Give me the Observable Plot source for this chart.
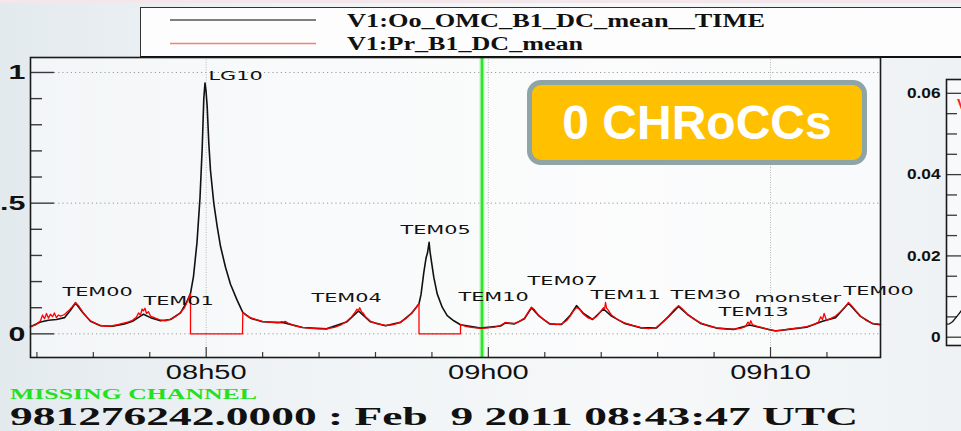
<!DOCTYPE html>
<html><head><meta charset="utf-8">
<script src="https://cdn.jsdelivr.net/npm/d3@7"></script>
<script src="https://cdn.jsdelivr.net/npm/@observablehq/plot@0.6"></script>
<style>
html,body{margin:0;padding:0;}
body{width:961px;height:431px;overflow:hidden;}
#root{position:relative;width:961px;height:431px;overflow:hidden;
 background:linear-gradient(90deg,#e3eaee 0%,#eff3f5 30%,#f6f8f9 65%,#eef2f4 100%);}
#root > *{position:absolute;left:0;top:0;}
#topband{width:961px;height:3px;background:#f3e7eb;}
#legend{left:140px !important;top:7px !important;width:900px;height:48px;background:#fdfdfd;border:1px solid #333;border-bottom:2px solid #111;}
#badge{left:527px !important;top:80px !important;width:330px;height:75px;border:5px solid #8fa4a4;border-radius:14px;background:#ffc000;
 color:#fff;font:bold 48px "Liberation Sans",Arial,sans-serif;display:flex;align-items:center;justify-content:center;}
</style></head><body><div id="root"><div id="topband"></div><div id="legend"></div></div>
<script>
// ---------- data ----------
// time in minutes after 08:00 UTC (Feb 9 2011)
const redMin = [43.773,43.950,44.127,44.200,44.269,44.340,44.411,44.480,44.553,44.620,44.694,44.760,44.836,44.978,45.120,45.261,45.368,45.474,45.616,45.758,45.899,46.077,46.254,46.466,46.679,46.892,47.104,47.246,47.388,47.530,47.600,47.671,47.730,47.778,47.830,47.884,47.950,48.026,48.203,48.380,48.558,48.735,48.912,49.089,49.231,49.373,49.444,49.444,51.287,51.297,51.428,51.570,51.783,51.995,52.279,52.562,52.680,52.740,52.800,52.917,53.165,53.413,53.697,53.980,54.264,54.547,54.760,54.972,55.150,55.291,55.340,55.398,55.440,55.504,55.560,55.646,55.823,56.071,56.355,56.638,56.886,57.099,57.276,57.418,57.542,57.542,59.013,59.013,59.226,59.474,59.722,59.970,60.218,60.431,60.608,60.750,60.927,61.104,61.281,61.423,61.529,61.636,61.777,61.955,62.167,62.380,62.592,62.770,62.911,63.018,63.124,63.230,63.372,63.549,63.691,63.833,63.975,64.081,64.120,64.152,64.190,64.223,64.365,64.577,64.825,65.109,65.392,65.676,65.960,66.208,66.385,66.562,66.739,66.881,67.058,67.271,67.519,67.802,68.086,68.405,68.689,68.937,69.114,69.200,69.256,69.300,69.362,69.504,69.716,69.929,70.177,70.425,70.709,70.992,71.276,71.524,71.701,71.780,71.843,71.900,71.985,72.126,72.304,72.481,72.658,72.764,72.871,73.012,73.190,73.402,73.615,73.898];
const redVal = [0.028,0.034,0.050,0.072,0.058,0.078,0.060,0.075,0.066,0.080,0.062,0.072,0.068,0.074,0.088,0.105,0.120,0.108,0.085,0.065,0.050,0.040,0.032,0.029,0.031,0.036,0.042,0.046,0.052,0.064,0.080,0.072,0.095,0.088,0.098,0.078,0.085,0.068,0.060,0.053,0.050,0.056,0.066,0.082,0.100,0.135,0.152,0,0,0.082,0.070,0.062,0.054,0.048,0.044,0.042,0.047,0.045,0.048,0.040,0.030,0.025,0.021,0.019,0.020,0.025,0.033,0.047,0.065,0.085,0.094,0.090,0.100,0.085,0.080,0.065,0.048,0.038,0.032,0.035,0.045,0.060,0.080,0.097,0.115,0,0,0.035,0.028,0.024,0.022,0.023,0.026,0.032,0.044,0.040,0.040,0.048,0.060,0.085,0.102,0.092,0.072,0.055,0.040,0.035,0.038,0.050,0.070,0.088,0.100,0.095,0.075,0.060,0.057,0.066,0.085,0.100,0.095,0.120,0.098,0.095,0.072,0.055,0.042,0.032,0.025,0.020,0.025,0.047,0.068,0.090,0.108,0.095,0.075,0.058,0.042,0.030,0.023,0.019,0.018,0.021,0.028,0.045,0.036,0.050,0.035,0.030,0.024,0.016,0.012,0.014,0.019,0.023,0.028,0.035,0.045,0.065,0.055,0.078,0.052,0.058,0.068,0.085,0.105,0.120,0.108,0.090,0.068,0.050,0.040,0.036];

const blackMin = [43.773,44.127,44.411,44.694,44.978,45.190,45.368,45.616,45.899,46.254,46.679,47.104,47.388,47.671,47.778,48.026,48.380,48.735,49.089,49.302,49.444,49.550,49.674,49.780,49.858,49.915,49.957,49.993,50.035,50.092,50.152,50.269,50.390,50.507,50.684,50.861,51.099,51.297,51.570,51.995,52.740,53.413,54.264,54.972,55.398,55.823,56.355,56.886,57.276,57.542,57.613,57.713,57.791,57.844,57.900,57.932,57.985,58.067,58.187,58.364,58.542,58.776,59.013,59.722,60.431,60.608,60.927,61.281,61.529,61.777,62.167,62.592,62.911,63.124,63.372,63.691,64.081,64.365,64.825,65.392,65.960,66.385,66.739,67.058,67.519,68.086,68.689,69.256,69.716,70.177,70.709,71.276,71.843,72.304,72.764,73.190,73.615,73.898];
const blackVal = [0.027,0.045,0.052,0.055,0.062,0.090,0.118,0.083,0.048,0.031,0.029,0.038,0.048,0.068,0.075,0.062,0.050,0.055,0.080,0.120,0.155,0.220,0.350,0.520,0.710,0.900,0.960,0.930,0.870,0.730,0.625,0.500,0.410,0.335,0.255,0.190,0.128,0.082,0.060,0.046,0.043,0.024,0.019,0.045,0.088,0.046,0.031,0.044,0.078,0.115,0.150,0.235,0.290,0.310,0.350,0.315,0.275,0.216,0.153,0.102,0.070,0.050,0.035,0.022,0.030,0.042,0.038,0.058,0.100,0.070,0.038,0.036,0.072,0.108,0.078,0.055,0.095,0.068,0.040,0.023,0.023,0.066,0.105,0.074,0.040,0.022,0.017,0.034,0.022,0.011,0.018,0.025,0.048,0.062,0.117,0.067,0.039,0.035];

const peakNames = ["LG10","TEM00","TEM01","TEM04","TEM05","TEM10","TEM07","TEM11","TEM30","TEM13","monster","TEM00"];
const peakMin   = [50.082,44.907,47.778,53.732,56.886,58.942,61.388,63.620,66.456,68.157,69.433,72.587];
const peakVal   = [0.971,0.146,0.112,0.123,0.383,0.124,0.188,0.135,0.135,0.070,0.121,0.150];

const xMajorMin = [50, 60, 70];                 // 08h50, 09h00, 09h10
const xMinorMin = [44,46,48,52,54,56,58,62,64,66,68,72];
const yMajor = [0, 0.5, 1];
const yMinor = [0.1,0.2,0.3,0.4,0.6,0.7,0.8,0.9];
const missingMin = [59.775];                      // green "missing channel" marker
const xDomainMin = [43.773, 73.898];
const yDomain = [-0.0905, 1.0573];

const seriesNames = ["V1:Oo_OMC_B1_DC_mean__TIME", "V1:Pr_B1_DC_mean"];
const seriesColors = ["#111111", "#ff0000"];
const footerStatus = "MISSING CHANNEL";
const footerStamp = "981276242.0000 : Feb  9 2011 08:43:47 UTC";
const badgeText = "0 CHRoCCs";

// side panel (partially visible second chart)
const sideX = [0, 3, 6, 9, 12, 15];
const sideY = [0.0032, 0.0033, 0.0038, 0.0047, 0.0056, 0.0066];
const sideMajor = [0, 0.02, 0.04, 0.06];
const sideMinor = [0.005,0.01,0.015,0.025,0.03,0.035,0.045,0.05,0.055];

// ---------- build ----------
const T0 = Date.UTC(2011, 1, 9, 8, 0, 0);
const toDate = m => new Date(T0 + m * 60000);
const red = redMin.map((m, i) => ({t: toDate(m), v: redVal[i]}));
const black = blackMin.map((m, i) => ({t: toDate(m), v: blackVal[i]}));
const peaks = peakNames.map((n, i) => ({t: toDate(peakMin[i]), v: peakVal[i], n}));
const xMajor = xMajorMin.map(toDate), xMinor = xMinorMin.map(toDate);

const root = document.getElementById("root");
const W = 961, H = 431, mL = 30, mR = 81, mT = 57, mB = 74;
const fw = W - mL - mR, fh = H - mT - mB;
const tickCol = "#3a3a3a";

const main = Plot.plot({
  width: W, height: H, marginLeft: mL, marginRight: mR, marginTop: mT, marginBottom: mB,
  x: {type: "utc", domain: xDomainMin.map(toDate), label: null},
  y: {domain: yDomain, label: null},
  style: {background: "transparent", overflow: "visible"},
  marks: [
    Plot.frame({fill: "#ffffff", fillOpacity: 0.55, stroke: "none"}),
    Plot.ruleY(yMajor, {y: d => d, insetLeft: 24, stroke: "#9a9a9a", strokeDasharray: "1.2,3"}),
    Plot.ruleX(xMajor, {x: d => d, stroke: "#b8b8b8", strokeDasharray: "1,1.5"}),
    Plot.ruleX(missingMin.map(toDate), {x: d => d, stroke: "#b6f5b6", strokeWidth: 5}),
    Plot.ruleX(missingMin.map(toDate), {x: d => d, stroke: "#2ee62e", strokeWidth: 2.5}),
    Plot.line(black, {x: "t", y: "v", stroke: seriesColors[0], strokeWidth: 1.6}),
    Plot.line(red, {x: "t", y: "v", stroke: seriesColors[1], strokeWidth: 1.3}),
    Plot.text(peaks, {x: "t", y: "v", text: "n", textAnchor: "start", lineAnchor: "bottom",
      fontSize: 13, fontFamily: "DejaVu Sans", fill: "#111"}),
    Plot.ruleX(xMajor, {x: d => d, insetTop: fh - 10, stroke: tickCol, strokeWidth: 1.2}),
    Plot.ruleX(xMinor, {x: d => d, insetTop: fh - 5, stroke: tickCol, strokeWidth: 1.2}),
    Plot.ruleY(yMajor, {y: d => d, insetRight: fw - 24, stroke: tickCol, strokeWidth: 1.4}),
    Plot.ruleY(yMinor, {y: d => d, insetRight: fw - 12, stroke: tickCol, strokeWidth: 1.4}),
    Plot.axisX(xMajor, {tickSize: 0, tickPadding: 7, fontSize: 20, fontFamily: "Liberation Sans",
      fill: "#111", tickFormat: d3.utcFormat("%Hh%M"), label: null}),
    Plot.axisY(yMajor, {tickSize: 0, tickPadding: 5, fontSize: 21, fontWeight: "bold", fontFamily: "Liberation Sans",
      fill: "#111", tickFormat: d => d3.format("~g")(d), label: null}),
    Plot.frame({stroke: "#1a1a1a", strokeWidth: 1.6})
  ]
});
root.appendChild(main);

const sW = 150, sL = 66;
const side = Plot.plot({
  width: sW, height: H, marginLeft: sL, marginRight: 10, marginTop: 79, marginBottom: 86,
  x: {domain: [0, sW - sL - 10], label: null, axis: null},
  y: {domain: [-0.00204, 0.0634], label: null},
  style: {background: "transparent", overflow: "visible"},
  marks: [
    Plot.frame({fill: "#ffffff", fillOpacity: 0.5, stroke: "none"}),
    Plot.ruleY(sideMajor, {y: d => d, insetRight: sW - sL - 10 - 15, stroke: tickCol, strokeWidth: 1.3}),
    Plot.ruleY(sideMinor, {y: d => d, insetRight: sW - sL - 10 - 11, stroke: tickCol, strokeWidth: 1.3}),
    Plot.line(sideX.map((x, i) => ({x, y: sideY[i]})), {x: "x", y: "y", stroke: "#111", strokeWidth: 1.3}),
    Plot.axisY(sideMajor, {tickSize: 0, tickPadding: 6, fontSize: 15, fontWeight: "bold", fontFamily: "Liberation Sans",
      fill: "#111", tickFormat: d => d === 0 ? "0" : d3.format(".2f")(d), label: null}),
    Plot.frame({stroke: "#1a1a1a", strokeWidth: 1.6})
  ]
});
side.style.left = "880px";
root.appendChild(side);

// stretch ROOT-style text horizontally
function stretch(svg, sel, k) {
  svg.querySelectorAll(sel).forEach(t => {
    const L = t.getComputedTextLength();
    if (L > 0) { t.setAttribute("textLength", (L * k).toFixed(1)); t.setAttribute("lengthAdjust", "spacingAndGlyphs"); }
  });
}
stretch(main, 'g[aria-label="text"] text', 1.6);
stretch(main, 'g[aria-label="x-axis tick label"] text', 1.45);
stretch(main, 'g[aria-label="y-axis tick label"] text', 1.45);
stretch(side, 'g[aria-label="y-axis tick label"] text', 1.15);

// overlay: legend entries and footer
const NS = "http://www.w3.org/2000/svg";
const ov = document.createElementNS(NS, "svg");
ov.setAttribute("width", W); ov.setAttribute("height", H);
root.appendChild(ov);
function line(x1, y1, x2, y2, col, w) {
  const l = document.createElementNS(NS, "line");
  l.setAttribute("x1", x1); l.setAttribute("y1", y1); l.setAttribute("x2", x2); l.setAttribute("y2", y2);
  l.setAttribute("stroke", col); l.setAttribute("stroke-width", w); ov.appendChild(l);
}
function txt(x, y, s, size, col, len, family) {
  const t = document.createElementNS(NS, "text");
  t.setAttribute("x", x); t.setAttribute("y", y);
  t.setAttribute("font-family", family || '"Liberation Serif", serif');
  t.setAttribute("font-weight", "bold"); t.setAttribute("font-size", size);
  t.setAttribute("fill", col); t.setAttribute("style", "white-space:pre");
  t.textContent = s;
  if (len) { t.setAttribute("textLength", len); t.setAttribute("lengthAdjust", "spacingAndGlyphs"); }
  ov.appendChild(t); return t;
}
line(170, 20, 316, 20, "#555", 1.5);
line(170, 43.5, 316, 43.5, "#ff7b7b", 1.6);
txt(347, 27, seriesNames[0], 18, "#111", 418);
txt(347, 50, seriesNames[1], 18, "#111", 236);
txt(10, 399, footerStatus, 15, "#22e022", 247);
txt(10, 425, footerStamp, 26, "#111", 848);
txt(957, 109, "V", 15, "#ff2020", null, '"Liberation Sans", sans-serif');

const badge = document.createElement("div");
badge.id = "badge"; badge.textContent = badgeText;
root.appendChild(badge);
</script></body></html>
